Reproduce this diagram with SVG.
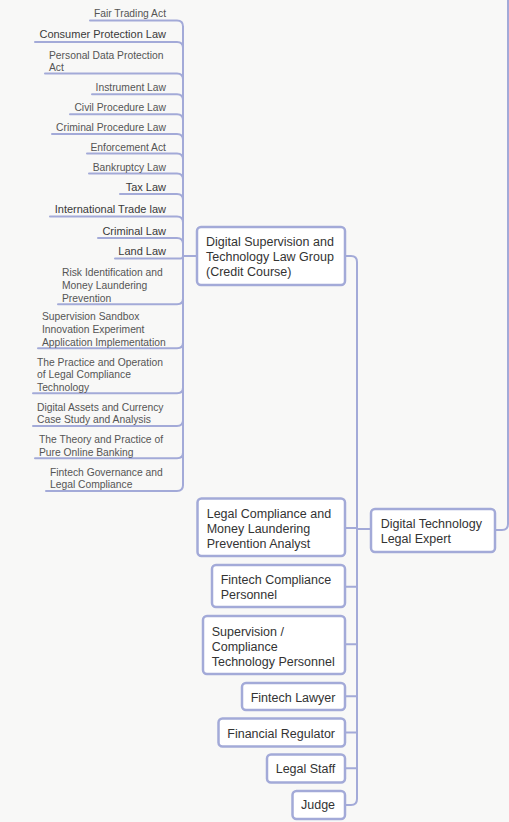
<svg xmlns="http://www.w3.org/2000/svg" width="509" height="822" viewBox="0 0 509 822">
<style>
.bg{fill:#f8f8f7}
.c{fill:none;stroke:#a3aad8;stroke-width:2;stroke-linecap:round;stroke-linejoin:round}
.box{fill:#ffffff;stroke:#a3aad8;stroke-width:2.5}
.nt{font-family:"Liberation Sans",Arial,sans-serif;font-size:12.5px;fill:#333333}
.ls{font-family:"Liberation Sans",Arial,sans-serif;font-size:10.3px;fill:#555555}
.lb{font-family:"Liberation Sans",Arial,sans-serif;font-size:11px;fill:#3a3a3a}
.r{text-anchor:end}
</style>
<rect class="bg" x="0" y="0" width="509" height="822"/>
<g id="connectors">
<path class="c" d="M495,530 H502 Q508,530 508,524 V-2"/>
<path class="c" d="M371,529 H357 V262 Q357,256 351,256 H345"/>
<path class="c" d="M371,529 H357 V528 H345"/>
<path class="c" d="M371,529 H357 V586.7 H345"/>
<path class="c" d="M371,529 H357 V644.3 H345"/>
<path class="c" d="M371,529 H357 V696.3 H345"/>
<path class="c" d="M371,529 H357 V732.5 H345"/>
<path class="c" d="M371,529 H357 V768.3 H345"/>
<path class="c" d="M371,529 H357 V799 Q357,805 351,805 H345"/>
<path class="c" d="M197,256 H183 V26.5 Q183,20.5 177,20.5 H90"/>
<path class="c" d="M197,256 H183 V47.7 Q183,42 177,42 H35"/>
<path class="c" d="M197,256 H183 V79.3 Q183,73.6 177,73.6 H45"/>
<path class="c" d="M197,256 H183 V100 Q183,94.3 177,94.3 H92"/>
<path class="c" d="M197,256 H183 V120 Q183,114.3 177,114.3 H70"/>
<path class="c" d="M197,256 H183 V139.8 Q183,134.1 177,134.1 H52"/>
<path class="c" d="M197,256 H183 V159.2 Q183,153.5 177,153.5 H87"/>
<path class="c" d="M197,256 H183 V179.2 Q183,173.5 177,173.5 H89"/>
<path class="c" d="M197,256 H183 V199.7 Q183,194 177,194 H120"/>
<path class="c" d="M197,256 H183 V222.3 Q183,216.6 177,216.6 H50"/>
<path class="c" d="M197,256 H183 V243.6 Q183,237.9 177,237.9 H98"/>
<path class="c" d="M197,256 H183 V256 Q183,258.5 180.5,258.5 H115"/>
<path class="c" d="M197,256 H183 V298.6 Q183,304.3 177,304.3 H58"/>
<path class="c" d="M197,256 H183 V342.6 Q183,348.3 177,348.3 H38"/>
<path class="c" d="M197,256 H183 V387.6 Q183,393.3 177,393.3 H33"/>
<path class="c" d="M197,256 H183 V420.3 Q183,426 177,426 H33"/>
<path class="c" d="M197,256 H183 V452.6 Q183,458.3 177,458.3 H35"/>
<path class="c" d="M197,256 H183 V485.3 Q183,491 177,491 H46"/>
</g>
<g id="n-dtle"><rect class="box" x="371" y="509" width="124" height="43" rx="4"/><text class="nt" x="380.7" y="527.5">Digital Technology</text><text class="nt" x="380.7" y="543">Legal Expert</text></g>
<g id="n-dstl"><rect class="box" x="197" y="227" width="148" height="58" rx="4"/><text class="nt" x="206" y="245.5">Digital Supervision and</text><text class="nt" x="206" y="260.5">Technology Law Group</text><text class="nt" x="206" y="275.5">(Credit Course)</text></g>
<g id="n-lcmlpa"><rect class="box" x="197.5" y="498.5" width="147.5" height="57.5" rx="4"/><text class="nt" x="206.7" y="517.5">Legal Compliance and</text><text class="nt" x="206.7" y="532.9">Money Laundering</text><text class="nt" x="206.7" y="547.5">Prevention Analyst</text></g>
<g id="n-fcp"><rect class="box" x="212" y="565" width="133" height="42" rx="4"/><text class="nt" x="220.7" y="584">Fintech Compliance</text><text class="nt" x="220.7" y="599.3">Personnel</text></g>
<g id="n-sctp"><rect class="box" x="203" y="616" width="142" height="58" rx="4"/><text class="nt" x="211.7" y="636">Supervision /</text><text class="nt" x="211.7" y="650.7">Compliance</text><text class="nt" x="211.7" y="665.7">Technology Personnel</text></g>
<g id="n-fl"><rect class="box" x="242" y="683" width="103" height="27" rx="4"/><text class="nt" x="250.7" y="701.7">Fintech Lawyer</text></g>
<g id="n-fr"><rect class="box" x="218.5" y="718.5" width="126.5" height="28" rx="4"/><text class="nt" x="227.3" y="737.7">Financial Regulator</text></g>
<g id="n-ls"><rect class="box" x="267" y="754.5" width="78" height="28" rx="4"/><text class="nt" x="275.7" y="773.3">Legal Staff</text></g>
<g id="n-judge"><rect class="box" x="292.5" y="791" width="52.5" height="28" rx="4"/><text class="nt" x="301" y="809.3">Judge</text></g>
<g id="l1"><text class="ls r" x="166" y="17.4">Fair Trading Act</text></g>
<g id="l2"><text class="lb r" x="166" y="38.4">Consumer Protection Law</text></g>
<g id="l3"><text class="ls" x="49" y="58.6">Personal Data Protection</text><text class="ls" x="49" y="71">Act</text></g>
<g id="l4"><text class="ls r" x="166" y="91.4">Instrument Law</text></g>
<g id="l5"><text class="ls r" x="166" y="111.3">Civil Procedure Law</text></g>
<g id="l6"><text class="ls r" x="166" y="131.1">Criminal Procedure Law</text></g>
<g id="l7"><text class="ls r" x="166" y="150.5">Enforcement Act</text></g>
<g id="l8"><text class="ls r" x="166" y="170.5">Bankruptcy Law</text></g>
<g id="l9"><text class="lb r" x="166" y="190.6">Tax Law</text></g>
<g id="l10"><text class="lb r" x="166" y="213.2">International Trade law</text></g>
<g id="l11"><text class="lb r" x="166" y="234.5">Criminal Law</text></g>
<g id="l12"><text class="lb r" x="166" y="255.2">Land Law</text></g>
<g id="l13"><text class="ls" x="62" y="276">Risk Identification and</text><text class="ls" x="62" y="289">Money Laundering</text><text class="ls" x="62" y="301.5">Prevention</text></g>
<g id="l14"><text class="ls" x="42" y="320">Supervision Sandbox</text><text class="ls" x="42" y="333">Innovation Experiment</text><text class="ls" x="42" y="345.7">Application Implementation</text></g>
<g id="l15"><text class="ls" x="37" y="365.5">The Practice and Operation</text><text class="ls" x="37" y="378.2">of Legal Compliance</text><text class="ls" x="37" y="391">Technology</text></g>
<g id="l16"><text class="ls" x="37" y="410.7">Digital Assets and Currency</text><text class="ls" x="37" y="423.3">Case Study and Analysis</text></g>
<g id="l17"><text class="ls" x="39" y="443.3">The Theory and Practice of</text><text class="ls" x="39" y="455.7">Pure Online Banking</text></g>
<g id="l18"><text class="ls" x="50" y="475.7">Fintech Governance and</text><text class="ls" x="50" y="488.3">Legal Compliance</text></g>
</svg>
